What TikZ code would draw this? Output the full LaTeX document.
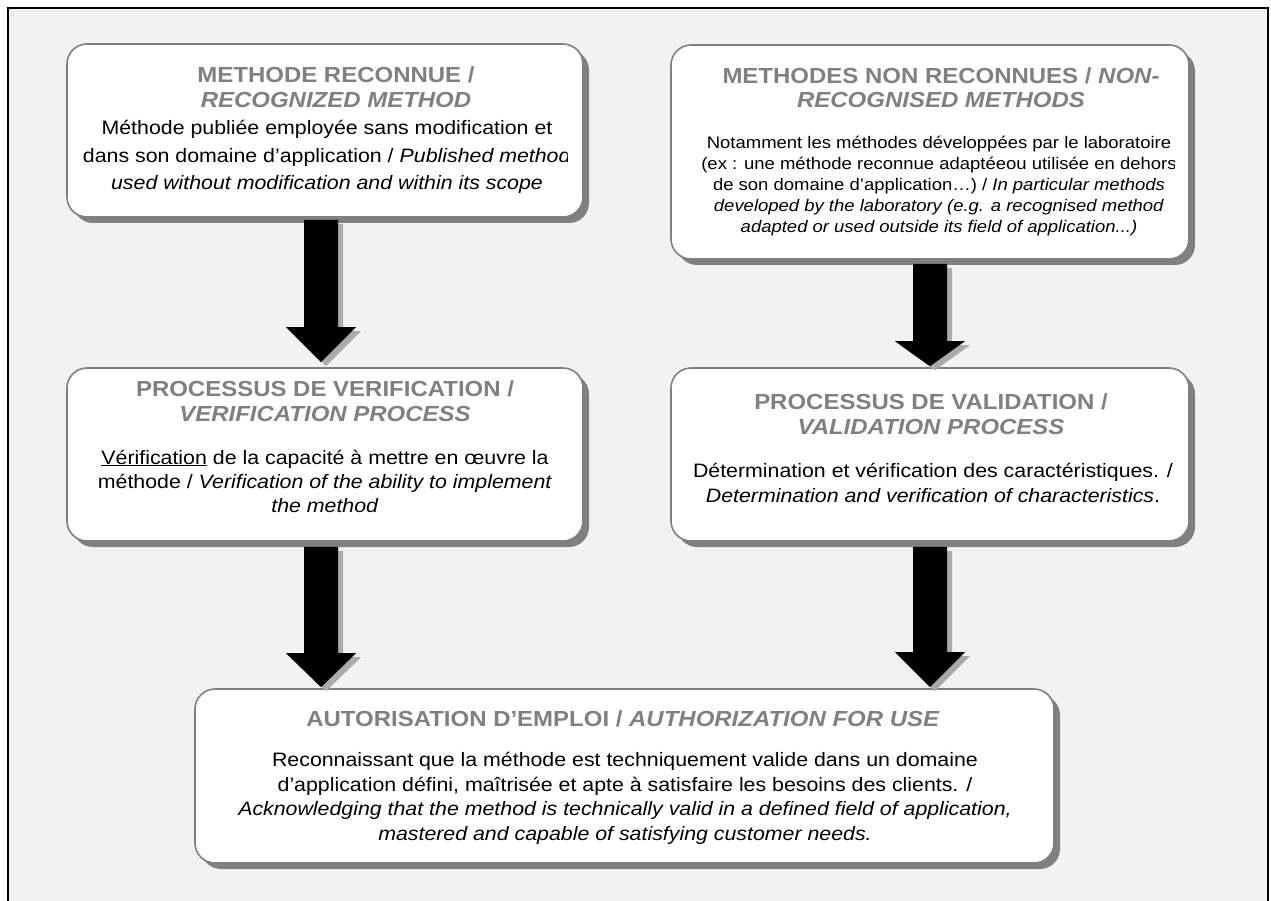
\documentclass[tikz,border=0pt]{standalone}
\usepackage{fontspec}
\setmainfont{Liberation Sans}[FakeStretch=1.1]
\usetikzlibrary{calc,shadows}
\definecolor{bggray}{HTML}{F2F2F2}
\definecolor{bordergray}{HTML}{808080}
\definecolor{titlegray}{HTML}{808080}
\definecolor{arrowshadow}{HTML}{ABABAB}
\tikzset{
  box/.style={draw=bordergray, line width=1.6pt, fill=white, rounded corners=20pt, inner sep=0pt,
    drop shadow={shadow xshift=6pt, shadow yshift=-6pt, fill=bordergray, opacity=1}},
  titletext/.style={text=titlegray, font=\fontsize{21.8}{24.8}\selectfont\bfseries, align=center, anchor=base, inner sep=0pt},
  bodytext/.style={font=\fontsize{19.4}{#1}\selectfont, align=center, anchor=base, inner sep=0pt},
  smallbody/.style={font=\fontsize{16.8}{#1}\selectfont, align=center, anchor=base, inner sep=0pt},
  blockarrow/.style={fill=black, drop shadow={shadow xshift=5pt, shadow yshift=-4pt, fill=arrowshadow, opacity=1}},
}
\newcommand\arrowpoly[3]{%
  \path[blockarrow] let \p1=(#1), \p2=(#2) in
    ({\x1-17pt},\y1) -- ({\x1+17pt},\y1) -- ({\x1+17pt},{\y2+#3pt}) -- ({\x1+35pt},{\y2+#3pt})
    -- (\x1,\y2) -- ({\x1-35pt},{\y2+#3pt}) -- ({\x1-17pt},{\y2+#3pt}) -- cycle;
}
\begin{document}
\begin{tikzpicture}[x=1pt,y=-1pt]
\useasboundingbox (0,0) rectangle (1271,901);
\draw[line width=2pt, fill=bggray] (8,8) rectangle (1268,930);

% boxes
\node[box, minimum width=516pt, minimum height=173pt] (A) at (325,130.5) {};
\node[box, minimum width=518pt, minimum height=214pt] (C) at (930,152) {};
\node[box, minimum width=516pt, minimum height=173pt] (B) at (325,454.5) {};
\node[box, minimum width=518pt, minimum height=173pt] (D) at (930,454.5) {};
\node[box, minimum width=859pt, minimum height=174pt] (E) at (624.5,776) {};

% texts box A (anchor = baseline of last line)
\node[titletext] (At) at (336,107.5) {METHODE RECONNUE /\\\textit{RECOGNIZED METHOD}};
\begin{scope}
\clip (67,44) rectangle (567,217);
\node[bodytext=27.5] (Ab) at (327,190) {Méthode publiée employée sans modification et\\dans son domaine d’application / \textit{Published method}\\\textit{used without modification and within its scope}};
\end{scope}

% texts box C
\node[titletext] (Ct) at (941,108) {METHODES NON RECONNUES / \textit{NON-}\\\textit{RECOGNISED METHODS}};
\begin{scope}
\clip (671,45) rectangle (1174,259);
\node[smallbody=21.2] (Cb) at (939,233) {Notamment les méthodes développées par le laboratoire\\(ex : une méthode reconnue adaptéeou utilisée en dehors\\de son domaine d’application…) / \textit{In particular methods}\\\textit{developed by the laboratory (e.g. a recognised method}\\\textit{adapted or used outside its field of application...)}};
\end{scope}

% texts box B
\node[titletext] (Bt) at (325,421) {PROCESSUS DE VERIFICATION /\\\textit{VERIFICATION PROCESS}};
\node[bodytext=24] (Bb) at (325,512) {\underline{Vérification} de la capacité à mettre en œuvre la\\méthode / \textit{Verification of the ability to implement}\\\textit{the method}};

% texts box D
\node[titletext] (Dt) at (931,434) {PROCESSUS DE VALIDATION /\\\textit{VALIDATION PROCESS}};
\node[bodytext=25] (Db) at (933,502) {Détermination et vérification des caractéristiques. /\\\textit{Determination and verification of characteristics}.};

% texts box E
\node[titletext] (Et) at (623,726) {AUTORISATION D’EMPLOI / \textit{AUTHORIZATION FOR USE}};
\node[bodytext=24.4] (Eb) at (625,840) {Reconnaissant que la méthode est techniquement valide dans un domaine\\d’application défini, maîtrisée et apte à satisfaire les besoins des clients. /\\\textit{Acknowledging that the method is technically valid in a defined field of application,}\\\textit{mastered and capable of satisfying customer needs.}};

% arrows
\coordinate (a1s) at ($(A.south)+(-4,2)$);
\coordinate (a1e) at ($(B.north)+(-4,-5)$);
\coordinate (a2s) at ($(C.south)+(0,4)$);
\coordinate (a2e) at ($(D.north)+(0,-1)$);
\coordinate (a3s) at ($(B.south)+(-4,5)$);
\coordinate (a3e) at ($(E.north -| B.south)+(-4,-1)$);
\coordinate (a4s) at ($(D.south)+(0,5)$);
\coordinate (a4e) at ($(E.north -| D.south)+(0,-1)$);
\arrowpoly{a1s}{a1e}{35}
\arrowpoly{a2s}{a2e}{25}
\arrowpoly{a3s}{a3e}{34}
\arrowpoly{a4s}{a4e}{35}
\end{tikzpicture}
\end{document}
